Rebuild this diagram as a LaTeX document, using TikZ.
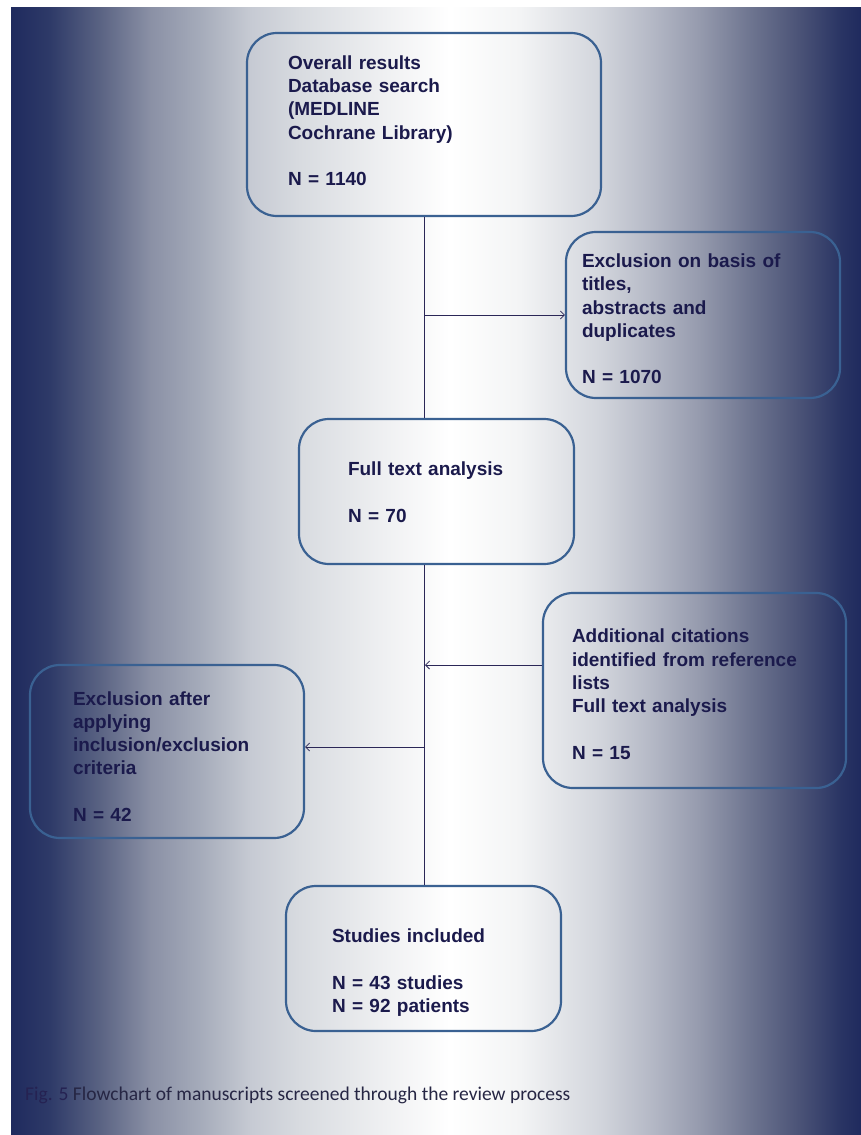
\documentclass[tikz,border=0pt]{standalone}
\usepackage{fontspec}
\setmainfont{Liberation Sans}
\newfontfamily\capfont{Carlito}
\usetikzlibrary{arrows.meta}
\definecolor{navybg}{HTML}{1F2A5E}
\definecolor{boxline}{HTML}{3A6192}
\definecolor{txtcol}{HTML}{1B1A4C}
\definecolor{conncol}{HTML}{2B2757}
\definecolor{figcol}{HTML}{252252}
\definecolor{capcol}{HTML}{262644}
\pgfdeclarehorizontalshading{bgshade}{100bp}{
  color(0bp)=(navybg);
  color(25bp)=(navybg);
  color(27.29bp)=(rgb,255:red,46;green,58;blue,104);
  color(30.24bp)=(rgb,255:red,90;green,99;blue,131);
  color(33.18bp)=(rgb,255:red,138;green,144;blue,165);
  color(36.12bp)=(rgb,255:red,165;green,171;blue,186);
  color(39.06bp)=(rgb,255:red,198;green,202;blue,211);
  color(42.0bp)=(rgb,255:red,216;green,219;blue,224);
  color(46.7bp)=(rgb,255:red,238;green,239;blue,241);
  color(50.82bp)=(rgb,255:red,255;green,255;blue,255);
  color(54.94bp)=(rgb,255:red,243;green,244;blue,245);
  color(59.65bp)=(rgb,255:red,210;green,213;blue,220);
  color(62.59bp)=(rgb,255:red,181;green,185;blue,198);
  color(65.53bp)=(rgb,255:red,149;green,154;blue,173);
  color(68.47bp)=(rgb,255:red,110;green,117;blue,144);
  color(71.41bp)=(rgb,255:red,74;green,82;blue,118);
  color(73.76bp)=(rgb,255:red,42;green,53;blue,100);
  color(75bp)=(navybg);
  color(100bp)=(navybg)}
\tikzset{
  box/.style={draw=boxline, line width=2.2pt, rounded corners=30pt, inner sep=0pt,
    align=left, text=txtcol, font=\fontsize{19}{23.3}\selectfont\bfseries},
  conn/.style={draw=conncol, line width=0.8pt},
  arr/.style={conn, -{Straight Barb[length=4pt,width=8pt]}}
}
\newcommand{\dn}[1]{\rule{0pt}{#1}}
\newcommand{\upr}[1]{\rule[-#1]{0pt}{#1}}
\begin{document}
\begin{tikzpicture}[x=1pt,y=-1pt]
\useasboundingbox (0,0) rectangle (861,1135);
\shade[shading=bgshade] (11,7) rectangle (861,1135);

\node[box, minimum width=354pt, minimum height=183pt, text width=272pt] (b1) at (424,124.5)
 {Overall results\\Database search\\(MEDLINE\\Cochrane Library)\\[23.3pt]N = 1140\upr{8pt}};
\node[box, minimum width=274pt, minimum height=166pt, text width=242pt] (b2) at (703,315)
 {\dn{21.6pt}Exclusion on basis of\\titles,\\abstracts and\\duplicates\\[23.3pt]N = 1070};
\node[box, minimum width=275pt, minimum height=145pt, text width=177pt] (b3) at (436.5,491.5)
 {\dn{15.6pt}Full text analysis\\[23.3pt]N = 70};
\node[box, minimum width=303pt, minimum height=195pt, text width=245pt] (b4) at (694.5,690.5)
 {\dn{21.6pt}Additional citations\\identified from reference\\lists\\Full text analysis\\[23.3pt]N = 15};
\node[box, minimum width=274pt, minimum height=173pt, text width=188pt] (b5) at (167,751.5)
 {\dn{23.6pt}Exclusion after\\applying\\inclusion/exclusion\\criteria\\[23.3pt]N = 42};
\node[box, minimum width=275pt, minimum height=145pt, text width=183pt] (b6) at (423.5,958.5)
 {\dn{42pt}Studies included\\[23.3pt]N = 43 studies\\N = 92 patients};

\coordinate (j2) at (425,665);
\coordinate (j3) at (425,747);
\draw[conn] (b1.south) -- (b1.south |- b3.north);
\draw[conn] (b1.south |- b3.south) -- (b1.south |- b6.north);
\draw[arr] (b1.south |- b2.west) -- (b2.west);
\draw[arr] (b4.west |- j2) -- (j2);
\draw[arr] (j3) -- (j3 -| b5.east);

\node[anchor=base west, inner sep=0pt, font=\capfont\fontsize{19.5}{23}\selectfont] (cap) at (25,1100)
 {\textcolor{figcol}{Fig. 5} \textcolor{capcol}{Flowchart of manuscripts screened through the review process}};
\end{tikzpicture}
\end{document}
